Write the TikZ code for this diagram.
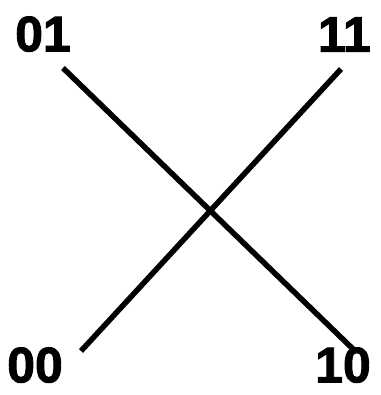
\documentclass[tikz,border=0pt]{standalone}
\usepackage{fontspec}
\newfontfamily\labelfont{Liberation Sans Bold}[FakeBold=1.8]
\usetikzlibrary{positioning}
\tikzset{
  corner/.style={font=\labelfont\fontsize{50}{50}\selectfont, inner sep=0pt},
  wire/.style={line width=5.5pt, draw=black}
}
\begin{document}
\begin{tikzpicture}[x=1pt, y=-1pt]
  \useasboundingbox (0,0) rectangle (380,395);
  % --- Corner labels ---
  \node[corner, anchor=south west] (l01) at (15,52) {01};
  \node[corner, anchor=south east] (l11) at (371,52) {11};
  \node[corner, anchor=south west] (l00) at (7,383) {00};
  \node[corner, anchor=south east] (l10) at (371,383) {10};
  % --- Line ends ---
  \coordinate (a01) at (63,68);
  \coordinate (a10) at (354,350);
  \coordinate (a00) at (81,351);
  \coordinate (a11) at (341,69);
  % --- Crossing ---
  \draw[wire] (a01) -- (a10);
  \draw[wire] (a00) -- (a11);
\end{tikzpicture}
\end{document}
